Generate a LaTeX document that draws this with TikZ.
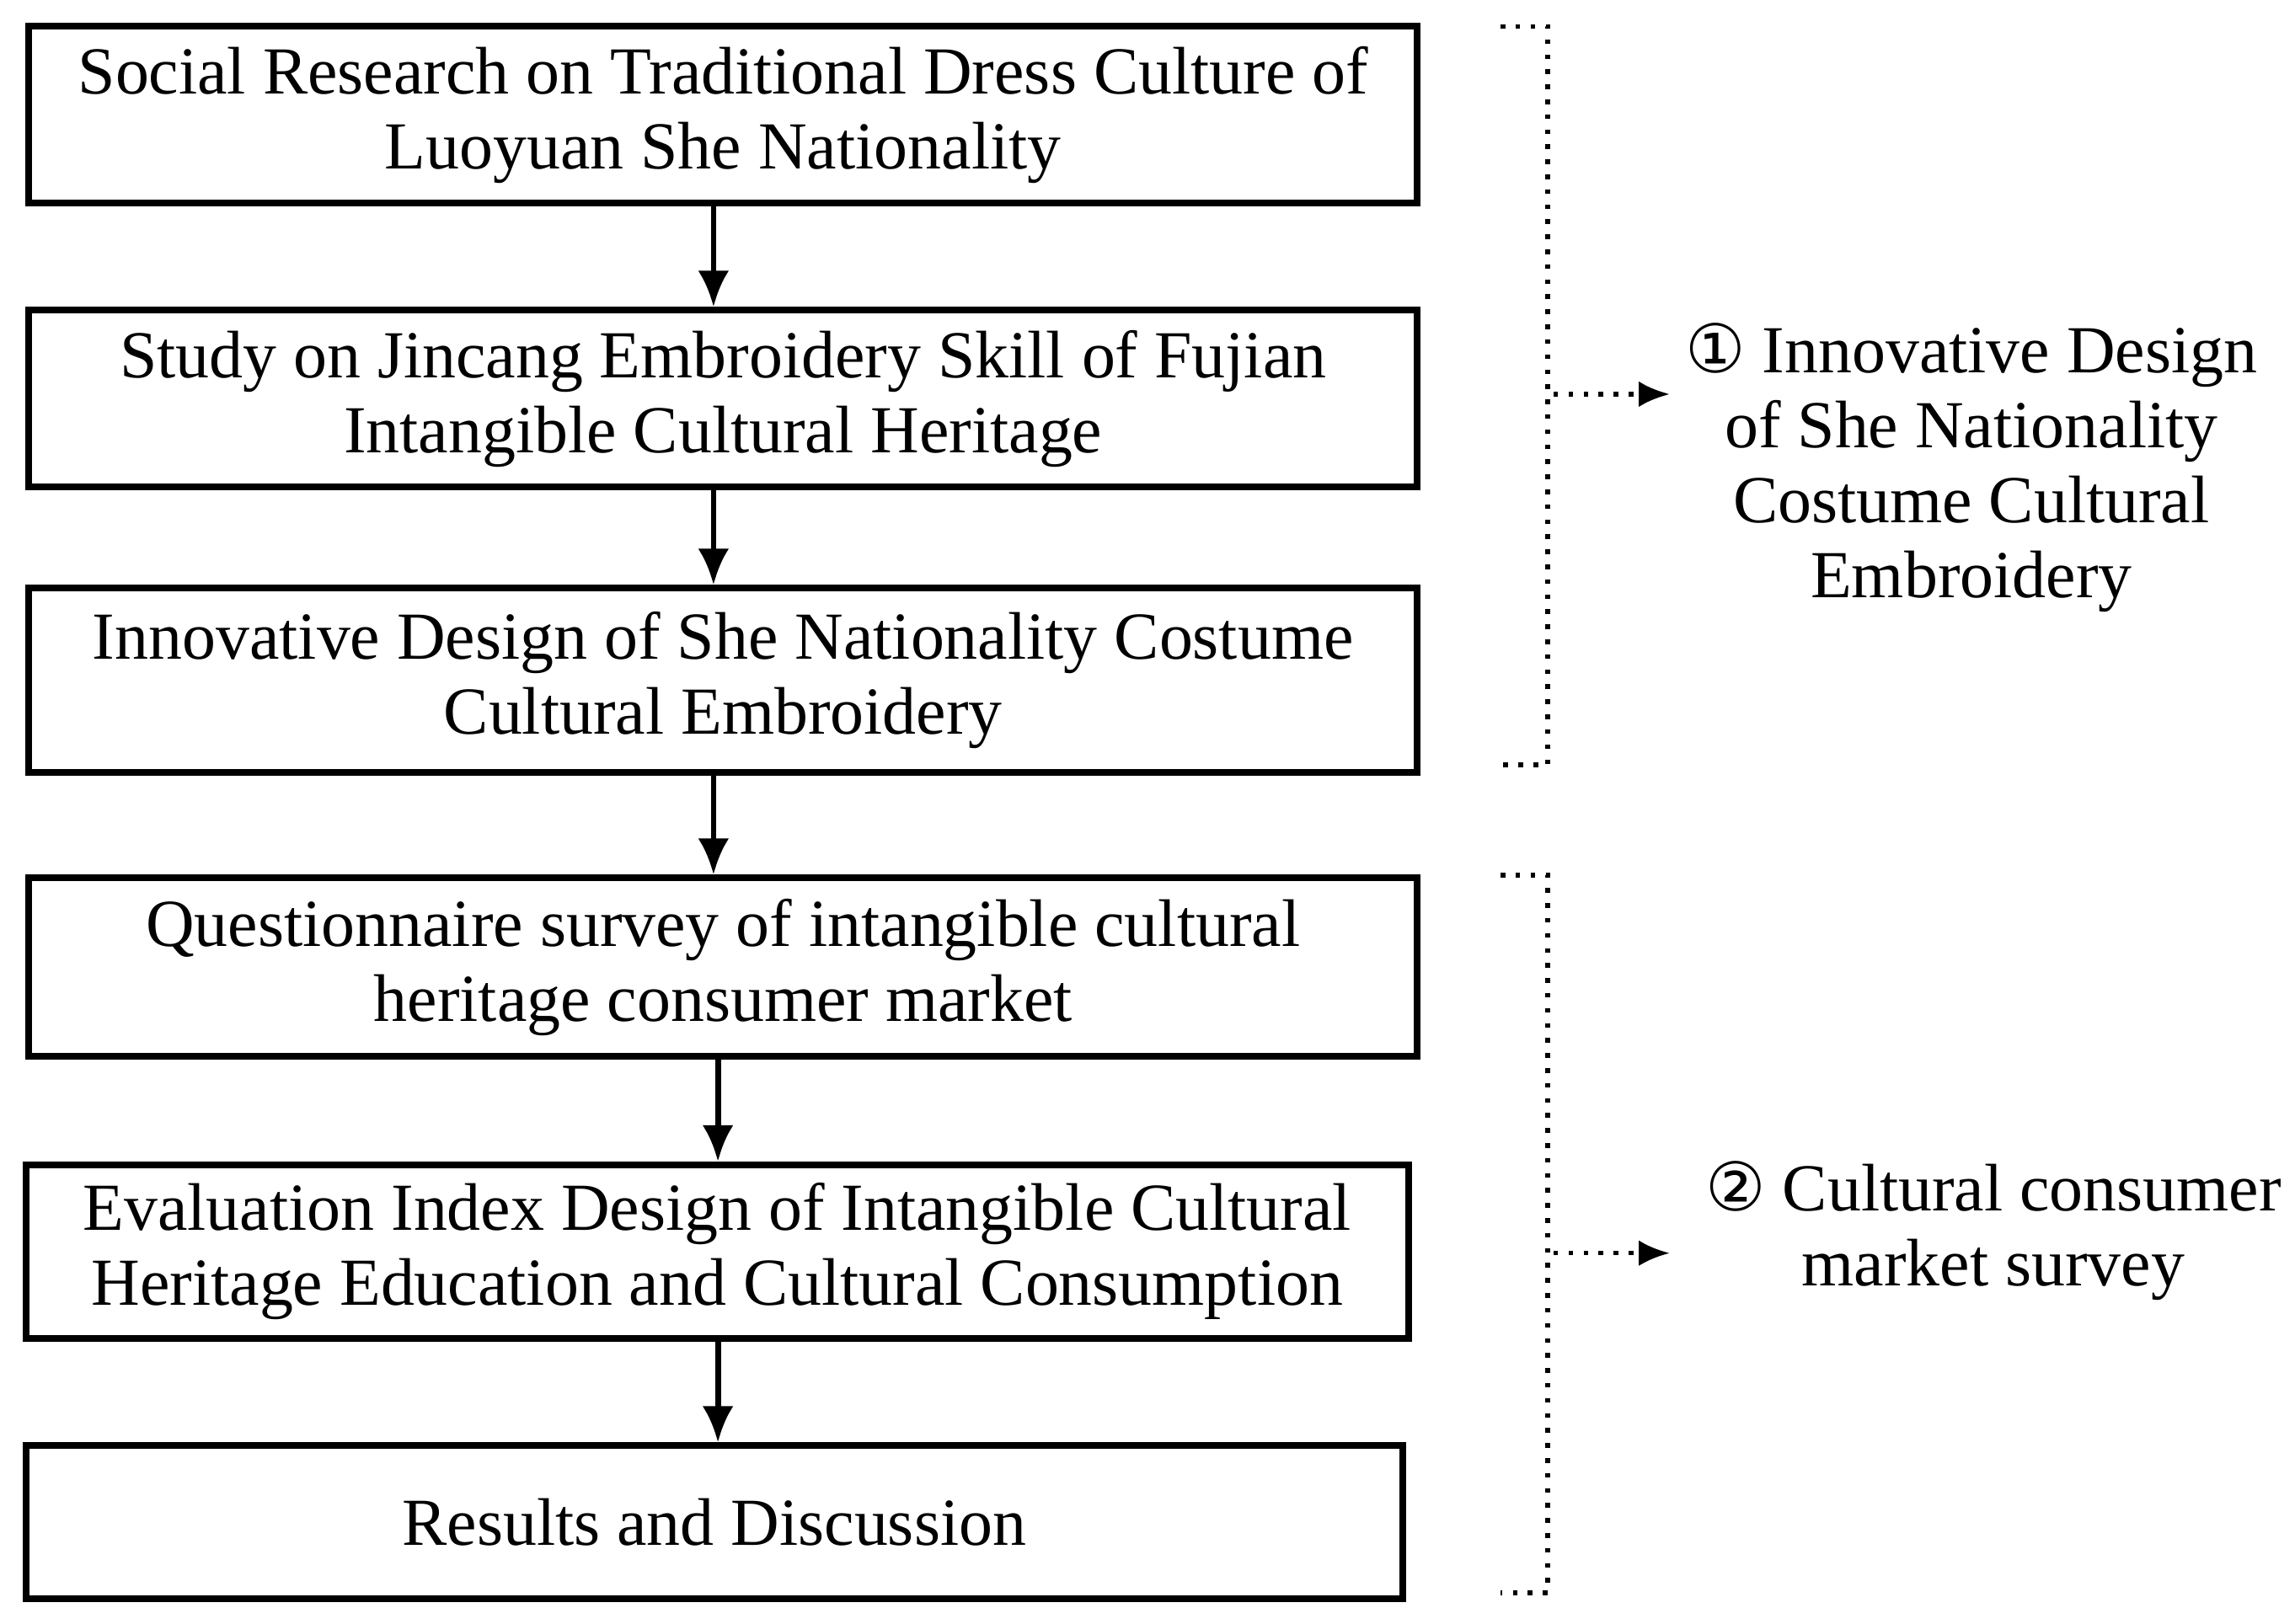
\documentclass[tikz,border=0pt]{standalone}
\usepackage{fontspec}
\setmainfont{Liberation Serif}
\newfontfamily\symf{DejaVu Sans}
\usetikzlibrary{arrows.meta}
\begin{document}
\begin{tikzpicture}[x=0.01cm,y=-0.01cm,
  box/.style={draw,line width=1.3pt,minimum height=1.2cm,align=center,font=\fontsize{13}{14.5}\selectfont,inner sep=0pt},
  arr/.style={-{Latex[length=7pt,width=6pt]},line width=1.1pt},
  dot/.style={dotted,line width=0.9pt},
  lab/.style={align=center,font=\fontsize{13}{14.5}\selectfont}]
\useasboundingbox (0,0) rectangle (1560,1104);
\node[box,minimum width=9.43cm,minimum height=1.2cm] (b1) at (491.5,78) {Social Research on Traditional Dress Culture of\\Luoyuan She Nationality};
\node[box,minimum width=9.43cm,minimum height=1.2cm] (b2) at (491.5,271) {Study on Jincang Embroidery Skill of Fujian\\Intangible Cultural Heritage};
\node[box,minimum width=9.43cm,minimum height=1.25cm] (b3) at (491.5,462.5) {Innovative Design of She Nationality Costume\\Cultural Embroidery};
\node[box,minimum width=9.43cm,minimum height=1.21cm] (b4) at (491.5,657.5) {Questionnaire survey of intangible cultural\\heritage consumer market};
\node[box,minimum width=9.39cm,minimum height=1.18cm] (b5) at (487.5,851) {Evaluation Index Design of Intangible Cultural\\Heritage Education and Cultural Consumption};
\node[box,minimum width=9.35cm,minimum height=1.04cm] (b6) at (485.5,1035) {Results and Discussion};
\draw[arr] (b1.south -| 485,0) -- (b2.north -| 485,0);
\draw[arr] (b2.south -| 485,0) -- (b3.north -| 485,0);
\draw[arr] (b3.south -| 485,0) -- (b4.north -| 485,0);
\draw[arr] (b4.south -| 488,0) -- (b5.north -| 488,0);
\draw[arr] (b5.south -| 488,0) -- (b6.north -| 488,0);
\coordinate (t1) at (1020,18); \coordinate (e1) at (1020,520);
\draw[dot] (t1) -- (1052,18) -- (1052,520) -- (e1);
\coordinate (t2) at (1020,595); \coordinate (e2) at (1020,1083);
\draw[dot] (t2) -- (1052,595) -- (1052,1083) -- (e2);
\node[lab] (l1) at (1340,318) {{\symf ①} Innovative Design\\of She Nationality\\Costume Cultural\\Embroidery};
\node[lab] (l2) at (1355,837) {{\symf ②} Cultural consumer\\market survey};
\coordinate (s1) at (1056,268); \coordinate (s2) at (1056,852);
\draw[dot,-{Latex[length=6pt,width=5pt]}] (s1) -- (1135,268);
\draw[dot,-{Latex[length=6pt,width=5pt]}] (s2) -- (1135,852);
\end{tikzpicture}
\end{document}
